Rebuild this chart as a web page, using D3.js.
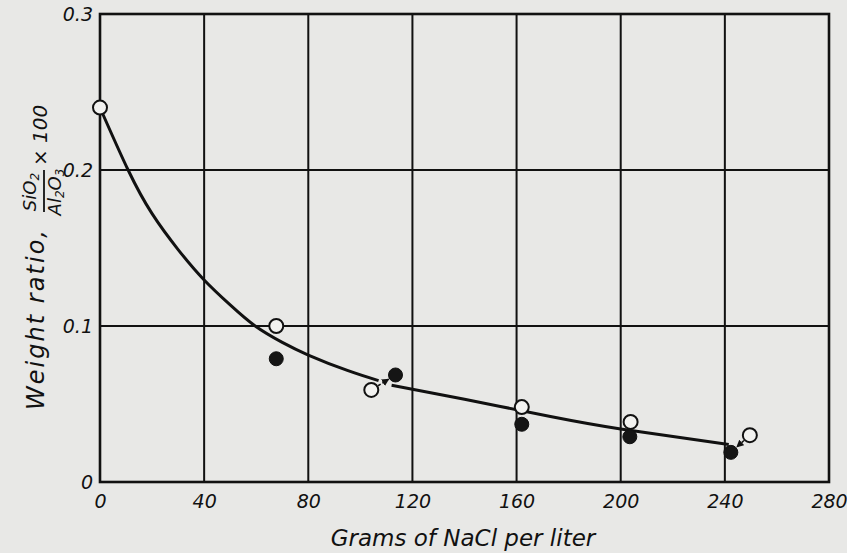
<!DOCTYPE html>
<html>
<head>
<meta charset="utf-8">
<script src="https://cdn.jsdelivr.net/npm/d3@7"></script>
<style>
  html, body { margin: 0; padding: 0; background: #e8e8e6; }
  svg { display: block; }
  text { font-family: "DejaVu Sans", sans-serif; font-style: italic; fill: #111; }
</style>
</head>
<body>
<svg id="chart" width="847" height="553"></svg>
<script>
// ---- data ----
const xTicks = [0, 40, 80, 120, 160, 200, 240, 280];
const yTicks = [0, 0.1, 0.2, 0.3];
const yTickLabels = ["0", "0.1", "0.2", "0.3"];

// open circles
const openX = [0, 67.7, 104.2, 162, 203.8, 249.6];
const openY = [0.24, 0.1, 0.059, 0.048, 0.0385, 0.030];
// filled circles
const filledX = [67.7, 113.5, 162, 203.5, 242.3];
const filledY = [0.079, 0.0686, 0.037, 0.029, 0.019];

// fitted curve (two drawn segments)
const curve1X = [0, 10.8, 20, 30, 40, 50, 59.6, 70, 80, 95, 107];
const curve1Y = [0.24, 0.2, 0.172, 0.149, 0.1295, 0.1135, 0.1, 0.0895, 0.0814, 0.0715, 0.065];
const curve2X = [112, 140, 173, 200, 241.5];
const curve2Y = [0.062, 0.053, 0.042, 0.034, 0.024];

// small arrows: [fromIndex in open, toIndex in filled]
const arrowPairs = [[2, 1], [5, 4]];

// ---- drawing ----
const svg = d3.select("#chart");
const x = d3.scaleLinear().domain([0, 280]).range([100, 829]);
const y = d3.scaleLinear().domain([0, 0.3]).range([482, 14]);
const ink = "#111";

// grid
svg.append("g").selectAll("line").data(xTicks.slice(1, -1)).join("line")
  .attr("x1", d => x(d)).attr("x2", d => x(d))
  .attr("y1", y(0)).attr("y2", y(0.3))
  .attr("stroke", ink).attr("stroke-width", 2);
svg.append("g").selectAll("line").data([0.1, 0.2]).join("line")
  .attr("y1", d => y(d)).attr("y2", d => y(d))
  .attr("x1", x(0)).attr("x2", x(280))
  .attr("stroke", ink).attr("stroke-width", 2);
// frame
svg.append("rect")
  .attr("x", x(0)).attr("y", y(0.3))
  .attr("width", x(280) - x(0)).attr("height", y(0) - y(0.3))
  .attr("fill", "none").attr("stroke", ink).attr("stroke-width", 2.6);

// axes (labels only)
const xAxis = d3.axisBottom(x).tickValues(xTicks).tickSize(0).tickPadding(0).tickFormat(d3.format("d"));
const gx = svg.append("g").attr("transform", `translate(0,${y(0)})`).call(xAxis);
gx.select(".domain").remove();
gx.selectAll("text").attr("font-size", 19).attr("dy", null).attr("y", 26)
  .style("font-family", "DejaVu Sans").style("font-style", "italic").attr("fill", ink);

const yAxis = d3.axisLeft(y).tickValues(yTicks).tickSize(0).tickPadding(0)
  .tickFormat((d, i) => yTickLabels[i]);
const gy = svg.append("g").attr("transform", `translate(${x(0)},0)`).call(yAxis);
gy.select(".domain").remove();
gy.selectAll("text").attr("font-size", 19).attr("x", -7)
  .style("font-family", "DejaVu Sans").style("font-style", "italic").attr("fill", ink);

// curve
const line = d3.line().x(d => x(d[0])).y(d => y(d[1])).curve(d3.curveNatural);
svg.append("path").datum(curve1X.map((v, i) => [v, curve1Y[i]]))
  .attr("d", line).attr("fill", "none").attr("stroke", ink).attr("stroke-width", 3);
svg.append("path").datum(curve2X.map((v, i) => [v, curve2Y[i]]))
  .attr("d", line).attr("fill", "none").attr("stroke", ink).attr("stroke-width", 3);

// arrows
svg.append("defs").append("marker")
  .attr("id", "ah").attr("viewBox", "0 0 10 10").attr("refX", 9).attr("refY", 5)
  .attr("markerWidth", 5).attr("markerHeight", 5).attr("orient", "auto")
  .append("path").attr("d", "M0,0 L10,5 L0,10 z").attr("fill", ink);
arrowPairs.forEach(([a, b]) => {
  const x1 = x(openX[a]), y1 = y(openY[a]), x2 = x(filledX[b]), y2 = y(filledY[b]);
  const dx = x2 - x1, dy = y2 - y1, L = Math.hypot(dx, dy);
  const ux = dx / L, uy = dy / L;
  svg.append("line")
    .attr("x1", x1 + ux * 8).attr("y1", y1 + uy * 8)
    .attr("x2", x2 - ux * 8).attr("y2", y2 - uy * 8)
    .attr("stroke", ink).attr("stroke-width", 1.5)
    .attr("stroke-dasharray", "3,2").attr("marker-end", "url(#ah)");
});

// points
svg.append("g").selectAll("circle").data(filledX.map((v, i) => [v, filledY[i]])).join("circle")
  .attr("cx", d => x(d[0])).attr("cy", d => y(d[1])).attr("r", 7)
  .attr("fill", "#151515").attr("stroke", ink).attr("stroke-width", 1);
svg.append("g").selectAll("circle").data(openX.map((v, i) => [v, openY[i]])).join("circle")
  .attr("cx", d => x(d[0])).attr("cy", d => y(d[1])).attr("r", 7)
  .attr("fill", "#f2f2f0").attr("stroke", ink).attr("stroke-width", 2);

// x title
svg.append("text").attr("x", 463).attr("y", 546).attr("text-anchor", "middle")
  .attr("font-size", 23).text("Grams of NaCl per liter");

// y title
const yt = svg.append("g").attr("transform", "rotate(-90)");
yt.append("text").attr("x", -410).attr("y", 44).attr("font-size", 24)
  .attr("textLength", 180).attr("lengthAdjust", "spacing").text("Weight ratio,");
const num = yt.append("text").attr("x", -192).attr("y", 36).attr("text-anchor", "middle").attr("font-size", 18);
num.append("tspan").text("SiO");
num.append("tspan").attr("font-size", 12).attr("dy", 3).text("2");
yt.append("line").attr("x1", -212).attr("x2", -170).attr("y1", 44).attr("y2", 44)
  .attr("stroke", ink).attr("stroke-width", 1.8);
const den = yt.append("text").attr("x", -192).attr("y", 61).attr("text-anchor", "middle").attr("font-size", 18);
den.append("tspan").text("Al");
den.append("tspan").attr("font-size", 12).attr("dy", 3).text("2");
den.append("tspan").attr("dy", -3).text("O");
den.append("tspan").attr("font-size", 12).attr("dy", 3).text("3");
yt.append("text").attr("x", -166).attr("y", 47).attr("font-size", 20).text("× 100");
</script>
</body>
</html>
